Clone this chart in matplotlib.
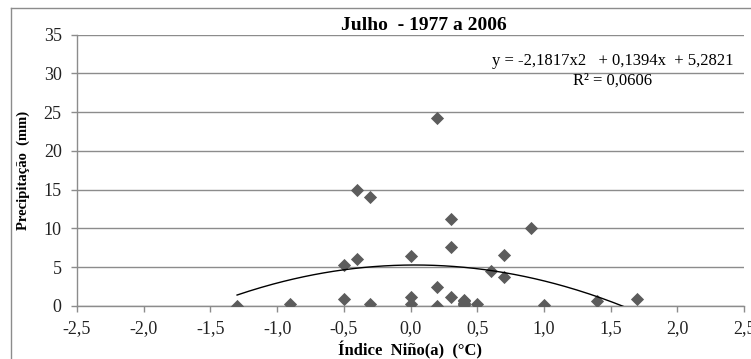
import numpy as np
import matplotlib

matplotlib.use("Agg")
import matplotlib.pyplot as plt  # noqa: E402
from matplotlib.lines import Line2D  # noqa: E402

plt.rcParams["font.family"] = ["Liberation Serif", "DejaVu Serif"]

# Índice Niño(a) (°C) vs precipitação de julho, 1977-2006
nino = [-1.3, -0.9, -0.5, -0.5, -0.4, -0.4, -0.3, -0.3,
        0.0, 0.0, 0.0, 0.2, 0.2, 0.2, 0.3, 0.3, 0.3,
        0.4, 0.4, 0.4, 0.4, 0.4, 0.5, 0.6, 0.7, 0.7, 0.9, 1.0, 1.4, 1.7]
precip = [0.0, 0.2, 0.9, 5.3, 6.1, 15.0, 14.0, 0.2,
          6.5, 1.2, 0.2, 24.3, 2.5, 0.0, 11.2, 7.6, 1.2,
          0.8, 0.6, 0.4, 0.2, 0.1, 0.3, 4.5, 6.6, 3.8, 10.1, 0.1, 0.7, 0.9]

# polynomial trend (order 2) as reported
coef = [-2.1817, 0.1394, 5.2821]
r2 = 0.0606

x_ticks = [-2.5, -2.0, -1.5, -1.0, -0.5, 0.0, 0.5, 1.0, 1.5, 2.0, 2.5]
y_ticks = [0, 5, 10, 15, 20, 25, 30, 35]

W, H = 751, 359
fig = plt.figure(figsize=(W / 100, H / 100), dpi=100)
ax = fig.add_axes([77 / W, 1 - 306 / H, (744 - 77) / W, (306 - 34.5) / H])

grey = "#8c8c8c"
ax.set_xlim(-2.5, 2.5)
ax.set_ylim(0, 35)
ax.set_xticks(x_ticks)
ax.set_yticks(y_ticks)
ax.set_xticklabels([f"{t:.1f}".replace(".", ",") for t in x_ticks])
ax.set_yticklabels([str(t) for t in y_ticks])
ax.grid(axis="y", color=grey, linewidth=1)
ax.set_axisbelow(True)
for side in ("top", "right"):
    ax.spines[side].set_visible(False)
for side in ("left", "bottom"):
    ax.spines[side].set_color(grey)
    ax.spines[side].set_linewidth(1)
ax.tick_params(axis="both", colors=grey, length=4, width=1, labelsize=13,
               labelcolor="#222222")
ax.tick_params(axis="x", pad=6)
ax.tick_params(axis="y", pad=7)

ax.scatter(nino, precip, marker="D", s=45, color="#5c5c5c", zorder=3,
           linewidths=0)

xs = np.linspace(min(nino), max(nino), 200)
ax.plot(xs, np.polyval(coef, xs), color="black", linewidth=1, zorder=4)

ax.set_xlabel("Índice  Niño(a)  (°C)", fontsize=12, fontweight="bold",
              labelpad=3)
ax.set_ylabel("Precipitação  (mm)", fontsize=10.5, fontweight="bold",
              labelpad=10)

fig.text(424 / W, 1 - 25 / H, "Julho  - 1977 a 2006", fontsize=14,
         fontweight="bold", ha="center", va="center")

eq = (f"y = {coef[0]:.4f}x2   + {coef[1]:.4f}x  + {coef[2]:.4f}").replace(".", ",")
ax.text(613 / W, 1 - 61 / H, eq, transform=fig.transFigure, fontsize=12,
        ha="center", va="center")
ax.text(613 / W, 1 - 81 / H, f"R² = {r2:.4f}".replace(".", ","),
        transform=fig.transFigure, fontsize=12, ha="center", va="center")

# chart border (only the top and left edges fall inside the canvas)
bx, by = 10.7 / W, 1 - 8.3 / H
fig.add_artist(Line2D([bx, bx], [0, by], color=grey, linewidth=1))
fig.add_artist(Line2D([bx, 1], [by, by], color=grey, linewidth=1))

fig.savefig("out.png", dpi=100)
